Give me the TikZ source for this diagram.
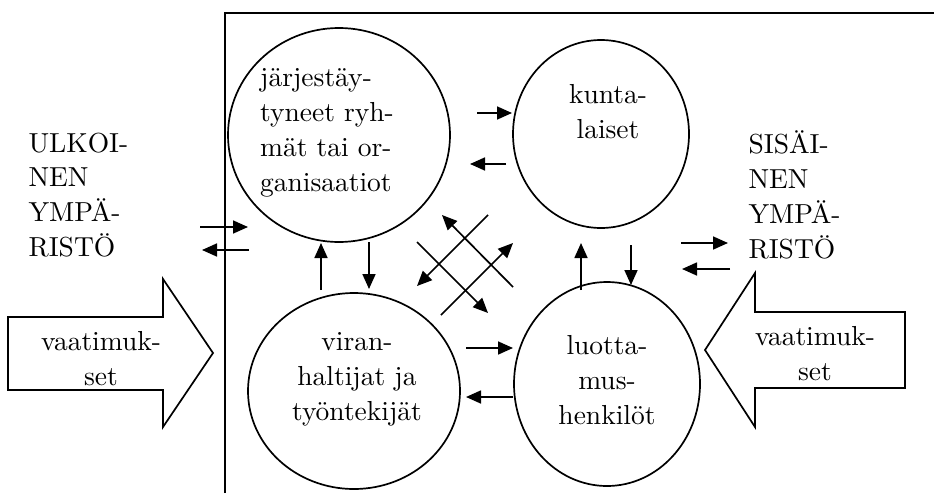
\documentclass[tikz,border=0pt]{standalone}
\usepackage{fontspec}
\usetikzlibrary{arrows.meta,shapes.geometric}
\tikzset{
  line/.style={line width=1.7pt, black},
  blob/.style={draw, line width=1.7pt, ellipse, inner sep=0pt},
  lbl/.style={inner sep=0pt, scale=2.75, transform shape, font=\fontsize{10}{12.7}\selectfont},
  arr/.style={line width=1.7pt, -{Triangle[length=15pt,width=13pt]}},
  bigarrow/.style={draw, line width=1.7pt, fill=white, line join=miter}
}
\begin{document}
\begin{tikzpicture}[x=1pt,y=-1pt]
\useasboundingbox (0,0) rectangle (934,493);
% frame
\draw[line] (225,493) -- (225,13) -- (934,13);
% circles
\node[blob, minimum width=222pt, minimum height=214pt] (c1) at (339,135) {};
\node[blob, minimum width=176pt, minimum height=188pt] (c2) at (601,134) {};
\node[blob, minimum width=212pt, minimum height=196pt] (c3) at (354,391) {};
\node[blob, minimum width=186pt, minimum height=204pt] (c4) at (607,384) {};
% circle texts
\node[lbl, align=left] (t1) at (327,133) {järjestäy-\\tyneet ryh-\\mät tai or-\\ganisaatiot};
\node[lbl, align=center] (t2) at (608,112) {kunta-\\laiset};
\node[lbl, align=center] (t3) at (357,379) {viran-\\haltijat ja\\työntekijät};
\node[lbl, align=center] (t4) at (607,380) {luotta-\\mus-\\henkilöt};
% environment texts
\node[lbl, align=left, anchor=west] (ulk) at (28,195) {ULKOI-\\NEN\\YMPÄ-\\RISTÖ};
\node[lbl, align=left, anchor=west] (sis) at (748,195) {SISÄI-\\NEN\\YMPÄ-\\RISTÖ};
% big arrows
\draw[bigarrow] (8,317) -- (163,317) -- (163,279) -- (213,353) -- (163,427) -- (163,390) -- (8,390) -- cycle;
\draw[bigarrow] (905,312) -- (755,312) -- (755,273) -- (705,350) -- (755,427) -- (755,388) -- (905,388) -- cycle;
\node[lbl, align=center] (vl) at (101,359) {vaatimuk-\\set};
\node[lbl, align=center] (vr) at (815,354) {vaatimuk-\\set};
% arrow end points
\coordinate (a1s) at (200,227); \coordinate (a1e) at (248,227);
\coordinate (a2s) at (249,250); \coordinate (a2e) at (202,250);
\coordinate (a3s) at (681,243); \coordinate (a3e) at (728,243);
\coordinate (a4s) at (730,269); \coordinate (a4e) at (682,269);
\coordinate (b1s) at (477,113); \coordinate (b1e) at (512,113);
\coordinate (b2s) at (506,164); \coordinate (b2e) at (470,164);
\coordinate (v1s) at (321,290); \coordinate (v1e) at (321,243);
\coordinate (v2s) at (369,242); \coordinate (v2e) at (369,289);
\coordinate (v3s) at (581,290); \coordinate (v3e) at (581,243);
\coordinate (v4s) at (631,245); \coordinate (v4e) at (631,285);
\coordinate (h1s) at (466,348); \coordinate (h1e) at (513,348);
\coordinate (h2s) at (513,397); \coordinate (h2e) at (466,397);
\coordinate (dAs) at (488,215); \coordinate (dAe) at (417,286);
\coordinate (dBs) at (513,287); \coordinate (dBe) at (442,215);
\coordinate (dCs) at (417,242); \coordinate (dCe) at (488,313);
\coordinate (dDs) at (441,315); \coordinate (dDe) at (513,243);
% arrows
\foreach \n in {a1,a2,a3,a4,b1,b2,v1,v2,v3,v4,h1,h2,dA,dB,dC,dD}
  \draw[arr] (\n s) -- (\n e);
\end{tikzpicture}
\end{document}
